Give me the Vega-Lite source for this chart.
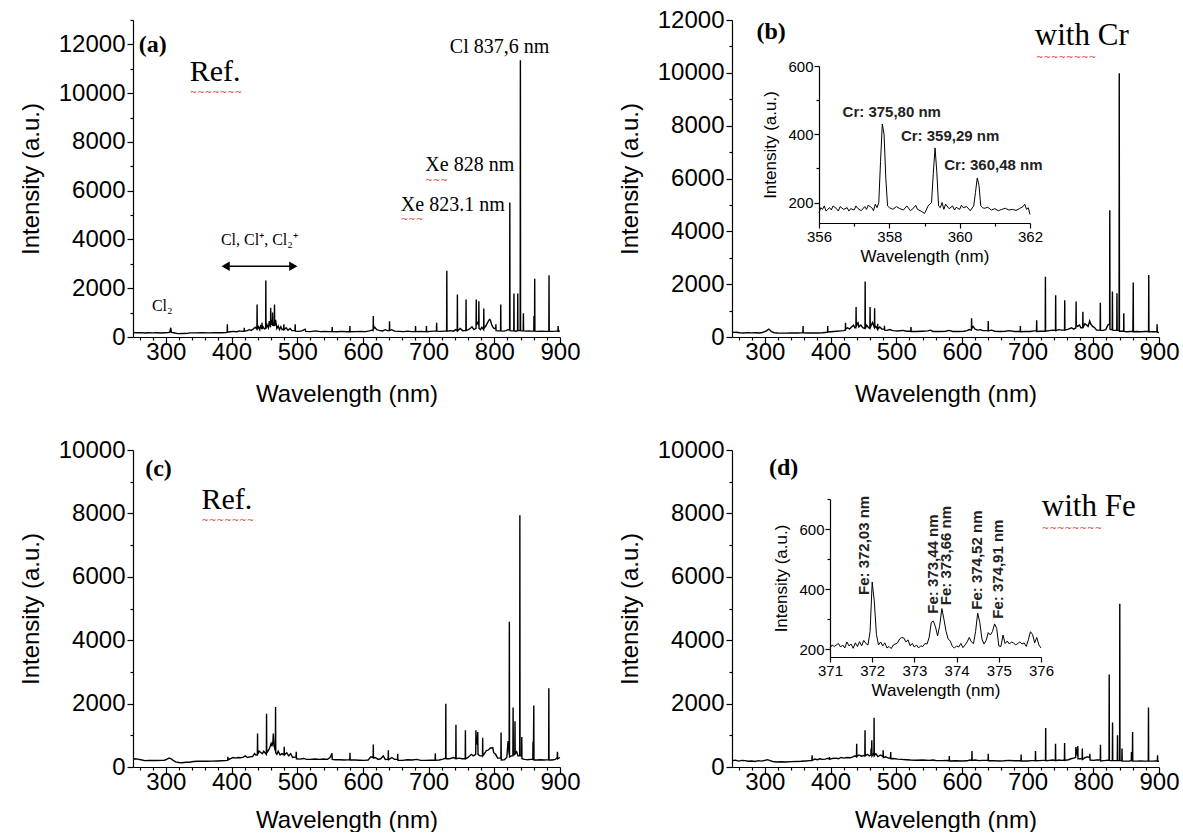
{
"$schema":"https://vega.github.io/schema/vega-lite/v6.json",
"padding":{"left":19,"top":8,"right":0,"bottom":0},
"config":{"view":{"stroke":null},"numberFormat":"d",
 "axis":{"grid":false,"labelFont":"Liberation Sans","titleFont":"Liberation Sans","labelColor":"black","titleColor":"black","titleFontWeight":"normal","domainColor":"black","tickColor":"black","domainWidth":1.2,"tickWidth":1.2,"labelFontSize":24,"titleFontSize":24,"labelFlush":false,"labelOverlap":false,"labelPadding":2}},
"datasets":{
"a":[{"w":250,"i":180},{"w":256,"i":172},{"w":262,"i":178},{"w":268,"i":165},{"w":274,"i":172},{"w":280,"i":168},{"w":286,"i":174},{"w":292,"i":165},{"w":298,"i":172},{"w":303,"i":178},{"w":306,"i":200},{"w":307.5,"i":380},{"w":308.5,"i":190},{"w":312,"i":175},{"w":318,"i":140},{"w":326,"i":145},{"w":333,"i":150},{"w":336,"i":170},{"w":345,"i":170},{"w":355,"i":172},{"w":365,"i":170},{"w":375,"i":172},{"w":385,"i":175},{"w":391,"i":180},{"w":393.3,"i":190},{"w":393.6,"i":520},{"w":394,"i":200},{"w":398,"i":215},{"w":403,"i":230},{"w":408,"i":215},{"w":412,"i":250},{"w":416,"i":230},{"w":419.1,"i":230},{"w":419.4,"i":380},{"w":419.7,"i":240},{"w":424,"i":260},{"w":427,"i":300},{"w":430,"i":270},{"w":433,"i":330},{"w":436,"i":400},{"w":438.6,"i":320},{"w":438.9,"i":1335},{"w":439.2,"i":320},{"w":441,"i":420},{"w":443,"i":300},{"w":444.5,"i":500},{"w":446.1,"i":320},{"w":446.4,"i":585},{"w":446.7,"i":330},{"w":448,"i":420},{"w":450,"i":330},{"w":451.9,"i":350},{"w":452.2,"i":2315},{"w":452.5,"i":350},{"w":454,"i":500},{"w":456,"i":380},{"w":457.5,"i":650},{"w":459.3,"i":400},{"w":459.6,"i":1200},{"w":459.9,"i":500},{"w":461,"i":700},{"w":462.2,"i":500},{"w":462.5,"i":1000},{"w":462.8,"i":450},{"w":464,"i":600},{"w":465.1,"i":450},{"w":465.4,"i":1335},{"w":465.7,"i":450},{"w":467,"i":700},{"w":469,"i":350},{"w":471,"i":450},{"w":473,"i":300},{"w":475,"i":420},{"w":477,"i":300},{"w":479.4,"i":320},{"w":479.7,"i":520},{"w":480,"i":300},{"w":483,"i":380},{"w":486,"i":280},{"w":489,"i":350},{"w":492,"i":260},{"w":496.6,"i":260},{"w":496.9,"i":520},{"w":497.2,"i":240},{"w":502,"i":230},{"w":507,"i":250},{"w":512,"i":320},{"w":513,"i":230},{"w":520,"i":220},{"w":528,"i":250},{"w":535,"i":220},{"w":542,"i":230},{"w":548,"i":220},{"w":552.9,"i":230},{"w":553.2,"i":410},{"w":553.5,"i":220},{"w":560,"i":215},{"w":568,"i":230},{"w":575,"i":215},{"w":579.9,"i":220},{"w":580.2,"i":450},{"w":580.5,"i":215},{"w":588,"i":220},{"w":596,"i":230},{"w":604,"i":220},{"w":610,"i":250},{"w":613,"i":280},{"w":615.5,"i":260},{"w":615.8,"i":860},{"w":616.1,"i":330},{"w":618,"i":400},{"w":621,"i":300},{"w":625,"i":270},{"w":630,"i":250},{"w":634,"i":300},{"w":637,"i":260},{"w":640.2,"i":260},{"w":640.5,"i":650},{"w":640.8,"i":270},{"w":644,"i":300},{"w":648,"i":240},{"w":655,"i":230},{"w":662,"i":220},{"w":668,"i":240},{"w":674,"i":220},{"w":679.8,"i":220},{"w":680.1,"i":450},{"w":680.4,"i":220},{"w":688,"i":230},{"w":693,"i":220},{"w":696.4,"i":220},{"w":696.7,"i":450},{"w":697,"i":220},{"w":703,"i":230},{"w":708,"i":240},{"w":711.9,"i":250},{"w":712.2,"i":585},{"w":712.5,"i":240},{"w":718,"i":230},{"w":724,"i":240},{"w":727.4,"i":240},{"w":727.7,"i":2720},{"w":728,"i":240},{"w":733,"i":260},{"w":738,"i":240},{"w":741,"i":300},{"w":743.5,"i":250},{"w":743.8,"i":1745},{"w":744.1,"i":250},{"w":748,"i":350},{"w":752,"i":260},{"w":756.7,"i":270},{"w":757,"i":1540},{"w":757.3,"i":270},{"w":762,"i":320},{"w":766,"i":420},{"w":769,"i":300},{"w":772.2,"i":350},{"w":772.5,"i":1540},{"w":772.8,"i":500},{"w":774,"i":600},{"w":776.2,"i":500},{"w":776.5,"i":1470},{"w":776.8,"i":350},{"w":779,"i":300},{"w":781,"i":400},{"w":783.7,"i":300},{"w":784,"i":1170},{"w":784.3,"i":350},{"w":787,"i":450},{"w":789,"i":550},{"w":791,"i":650},{"w":792.6,"i":720},{"w":794,"i":700},{"w":796,"i":500},{"w":798,"i":400},{"w":800,"i":350},{"w":802.1,"i":350},{"w":802.4,"i":520},{"w":802.7,"i":260},{"w":806,"i":250},{"w":809.5,"i":260},{"w":809.8,"i":1335},{"w":810.1,"i":250},{"w":814,"i":240},{"w":818,"i":260},{"w":821,"i":300},{"w":823.3,"i":300},{"w":823.6,"i":5515},{"w":823.9,"i":260},{"w":826,"i":250},{"w":829.6,"i":260},{"w":829.9,"i":1785},{"w":830.2,"i":260},{"w":833,"i":240},{"w":835.4,"i":260},{"w":835.7,"i":1785},{"w":836,"i":260},{"w":839.4,"i":260},{"w":839.7,"i":11345},{"w":840,"i":260},{"w":842,"i":250},{"w":844,"i":260},{"w":844.3,"i":970},{"w":844.6,"i":250},{"w":848,"i":240},{"w":852,"i":250},{"w":856,"i":240},{"w":860.1,"i":240},{"w":860.4,"i":860},{"w":860.7,"i":250},{"w":861.2,"i":250},{"w":861.5,"i":2385},{"w":861.8,"i":240},{"w":866,"i":230},{"w":872,"i":240},{"w":878,"i":230},{"w":883,"i":240},{"w":883.3,"i":2530},{"w":883.6,"i":240},{"w":888,"i":230},{"w":893,"i":240},{"w":896.8,"i":250},{"w":897.1,"i":450},{"w":897.5,"i":230},{"w":900,"i":250}],
"b":[{"w":250,"i":175},{"w":256,"i":180},{"w":262,"i":160},{"w":268,"i":150},{"w":274,"i":165},{"w":280,"i":155},{"w":286,"i":160},{"w":292,"i":150},{"w":296,"i":170},{"w":300,"i":200},{"w":303,"i":240},{"w":306,"i":300},{"w":308,"i":260},{"w":310,"i":200},{"w":314,"i":160},{"w":320,"i":150},{"w":330,"i":145},{"w":340,"i":150},{"w":350,"i":150},{"w":355,"i":155},{"w":357.9,"i":160},{"w":358.2,"i":415},{"w":358.5,"i":160},{"w":365,"i":150},{"w":372,"i":155},{"w":380,"i":150},{"w":388,"i":160},{"w":392,"i":170},{"w":395.4,"i":180},{"w":395.7,"i":415},{"w":396,"i":190},{"w":400,"i":200},{"w":405,"i":210},{"w":410,"i":220},{"w":415,"i":230},{"w":420,"i":240},{"w":422.5,"i":260},{"w":422.8,"i":540},{"w":423.1,"i":300},{"w":426,"i":350},{"w":429,"i":300},{"w":432,"i":380},{"w":435,"i":450},{"w":437,"i":350},{"w":438.6,"i":350},{"w":438.9,"i":1135},{"w":439.2,"i":400},{"w":440.5,"i":500},{"w":441.8,"i":540},{"w":443,"i":380},{"w":446,"i":450},{"w":449,"i":350},{"w":452.4,"i":320},{"w":452.7,"i":2100},{"w":453,"i":320},{"w":455,"i":450},{"w":458,"i":350},{"w":459.9,"i":320},{"w":460.2,"i":1135},{"w":460.5,"i":350},{"w":462,"i":450},{"w":464,"i":550},{"w":466.8,"i":350},{"w":467.1,"i":1085},{"w":467.4,"i":350},{"w":469,"i":400},{"w":471.5,"i":300},{"w":471.8,"i":500},{"w":472.1,"i":300},{"w":475,"i":380},{"w":478,"i":300},{"w":481.8,"i":300},{"w":482.1,"i":420},{"w":482.4,"i":260},{"w":486,"i":250},{"w":490,"i":280},{"w":495,"i":240},{"w":502,"i":230},{"w":510,"i":250},{"w":516,"i":220},{"w":522.2,"i":220},{"w":522.5,"i":380},{"w":522.8,"i":210},{"w":530,"i":210},{"w":540,"i":220},{"w":548,"i":230},{"w":552,"i":260},{"w":556,"i":210},{"w":565,"i":210},{"w":575,"i":220},{"w":580,"i":250},{"w":586,"i":210},{"w":595,"i":210},{"w":603,"i":220},{"w":608,"i":240},{"w":611,"i":280},{"w":614.4,"i":260},{"w":614.7,"i":710},{"w":615,"i":320},{"w":617,"i":400},{"w":620,"i":300},{"w":624,"i":260},{"w":628,"i":280},{"w":632,"i":240},{"w":639.8,"i":240},{"w":640.1,"i":605},{"w":640.4,"i":230},{"w":645,"i":260},{"w":650,"i":220},{"w":658,"i":210},{"w":666,"i":220},{"w":672,"i":240},{"w":680,"i":210},{"w":688.7,"i":210},{"w":689,"i":415},{"w":689.3,"i":200},{"w":696,"i":210},{"w":704,"i":210},{"w":710,"i":230},{"w":713.5,"i":230},{"w":713.8,"i":630},{"w":714.1,"i":210},{"w":720,"i":220},{"w":726.8,"i":220},{"w":727.1,"i":2285},{"w":727.4,"i":220},{"w":733,"i":240},{"w":738,"i":260},{"w":742.4,"i":250},{"w":742.7,"i":1580},{"w":743,"i":240},{"w":747,"i":280},{"w":752,"i":260},{"w":756.2,"i":260},{"w":756.5,"i":1390},{"w":756.8,"i":260},{"w":762,"i":300},{"w":767,"i":350},{"w":770,"i":300},{"w":773.5,"i":350},{"w":773.8,"i":1340},{"w":774.1,"i":450},{"w":776,"i":400},{"w":779,"i":450},{"w":781,"i":350},{"w":783.8,"i":350},{"w":784.1,"i":960},{"w":784.4,"i":350},{"w":787,"i":500},{"w":790,"i":450},{"w":792,"i":400},{"w":794.5,"i":605},{"w":796,"i":500},{"w":799,"i":400},{"w":802,"i":350},{"w":805,"i":260},{"w":810.4,"i":260},{"w":810.7,"i":1300},{"w":811,"i":250},{"w":815,"i":250},{"w":819,"i":280},{"w":822,"i":450},{"w":824.8,"i":500},{"w":825.1,"i":4800},{"w":825.4,"i":300},{"w":827,"i":280},{"w":828.8,"i":280},{"w":829.1,"i":1720},{"w":829.4,"i":260},{"w":833,"i":250},{"w":835.7,"i":260},{"w":836,"i":1655},{"w":836.3,"i":250},{"w":839.2,"i":250},{"w":839.5,"i":9980},{"w":839.8,"i":220},{"w":843,"i":220},{"w":846.1,"i":220},{"w":846.4,"i":900},{"w":846.7,"i":210},{"w":851,"i":200},{"w":856,"i":210},{"w":860.2,"i":210},{"w":860.5,"i":900},{"w":860.8,"i":2060},{"w":861.1,"i":200},{"w":866,"i":210},{"w":872,"i":200},{"w":878,"i":210},{"w":884.1,"i":210},{"w":884.4,"i":2350},{"w":884.7,"i":200},{"w":890,"i":200},{"w":894,"i":200},{"w":896.8,"i":200},{"w":897.1,"i":480},{"w":897.5,"i":180},{"w":900,"i":170}],
"c":[{"w":250,"i":240},{"w":253,"i":260},{"w":257,"i":250},{"w":262,"i":230},{"w":268,"i":200},{"w":274,"i":205},{"w":280,"i":210},{"w":286,"i":205},{"w":292,"i":210},{"w":298,"i":215},{"w":302,"i":250},{"w":305,"i":280},{"w":308,"i":260},{"w":311,"i":210},{"w":315,"i":160},{"w":320,"i":140},{"w":325,"i":135},{"w":330,"i":150},{"w":336,"i":150},{"w":342,"i":175},{"w":348,"i":180},{"w":355,"i":180},{"w":362,"i":180},{"w":370,"i":185},{"w":378,"i":190},{"w":385,"i":195},{"w":390,"i":200},{"w":394.1,"i":210},{"w":394.4,"i":325},{"w":394.7,"i":230},{"w":398,"i":260},{"w":402,"i":300},{"w":406,"i":280},{"w":410,"i":300},{"w":414,"i":290},{"w":418,"i":310},{"w":421,"i":350},{"w":424,"i":300},{"w":428,"i":320},{"w":432,"i":330},{"w":435,"i":420},{"w":437,"i":380},{"w":439.3,"i":380},{"w":439.6,"i":1055},{"w":439.9,"i":400},{"w":442,"i":500},{"w":445,"i":450},{"w":447,"i":420},{"w":449,"i":500},{"w":451,"i":450},{"w":453,"i":400},{"w":453.3,"i":1680},{"w":453.6,"i":450},{"w":456,"i":520},{"w":458,"i":600},{"w":460.2,"i":740},{"w":461.5,"i":650},{"w":463,"i":800},{"w":463.6,"i":1055},{"w":464.5,"i":700},{"w":466.7,"i":500},{"w":467,"i":1890},{"w":467.3,"i":450},{"w":469,"i":400},{"w":471,"i":500},{"w":474,"i":380},{"w":477,"i":420},{"w":479.9,"i":380},{"w":480.2,"i":635},{"w":480.5,"i":380},{"w":484,"i":450},{"w":487,"i":350},{"w":490,"i":420},{"w":493,"i":300},{"w":498.2,"i":320},{"w":498.5,"i":480},{"w":498.8,"i":260},{"w":504,"i":250},{"w":510,"i":270},{"w":514,"i":240},{"w":520,"i":240},{"w":527,"i":250},{"w":534,"i":240},{"w":540,"i":250},{"w":546,"i":240},{"w":550,"i":300},{"w":552.9,"i":430},{"w":553.3,"i":240},{"w":558,"i":230},{"w":565,"i":230},{"w":572,"i":220},{"w":580,"i":230},{"w":580.3,"i":450},{"w":580.6,"i":220},{"w":588,"i":220},{"w":595,"i":215},{"w":602,"i":210},{"w":608,"i":220},{"w":612,"i":320},{"w":615.5,"i":300},{"w":615.8,"i":710},{"w":616.1,"i":280},{"w":619,"i":300},{"w":623,"i":240},{"w":627,"i":260},{"w":631,"i":350},{"w":634,"i":240},{"w":638.4,"i":250},{"w":638.7,"i":530},{"w":639,"i":230},{"w":644,"i":300},{"w":648,"i":240},{"w":652.7,"i":240},{"w":653,"i":420},{"w":653.3,"i":210},{"w":660,"i":210},{"w":668,"i":230},{"w":675,"i":220},{"w":682,"i":240},{"w":688,"i":210},{"w":695,"i":210},{"w":702,"i":215},{"w":709.9,"i":220},{"w":710.2,"i":430},{"w":710.5,"i":210},{"w":716,"i":220},{"w":722,"i":250},{"w":725.9,"i":280},{"w":726.2,"i":1995},{"w":726.5,"i":260},{"w":732,"i":260},{"w":738,"i":300},{"w":741.3,"i":270},{"w":741.6,"i":1335},{"w":741.9,"i":260},{"w":746,"i":280},{"w":751,"i":260},{"w":755.7,"i":260},{"w":756,"i":1160},{"w":756.3,"i":260},{"w":760,"i":300},{"w":765,"i":400},{"w":768,"i":350},{"w":771.7,"i":400},{"w":772,"i":1160},{"w":772.5,"i":900},{"w":773,"i":800},{"w":774.5,"i":700},{"w":774.8,"i":1105},{"w":775.2,"i":400},{"w":778,"i":350},{"w":782,"i":350},{"w":782.3,"i":920},{"w":782.6,"i":350},{"w":786,"i":450},{"w":788,"i":520},{"w":790.3,"i":530},{"w":792,"i":560},{"w":794,"i":600},{"w":797.7,"i":605},{"w":799,"i":450},{"w":802,"i":400},{"w":805,"i":280},{"w":810,"i":280},{"w":810.3,"i":1085},{"w":810.6,"i":220},{"w":815,"i":230},{"w":819,"i":300},{"w":821,"i":820},{"w":822.6,"i":400},{"w":822.9,"i":4585},{"w":823.2,"i":320},{"w":826,"i":350},{"w":828.3,"i":350},{"w":828.6,"i":1880},{"w":829,"i":380},{"w":831.2,"i":400},{"w":831.5,"i":1440},{"w":831.8,"i":420},{"w":834,"i":480},{"w":836,"i":350},{"w":838.6,"i":350},{"w":838.9,"i":7945},{"w":839.2,"i":350},{"w":841.5,"i":350},{"w":841.8,"i":950},{"w":842.1,"i":260},{"w":846,"i":240},{"w":851,"i":230},{"w":855,"i":240},{"w":858.6,"i":250},{"w":858.9,"i":795},{"w":859.5,"i":400},{"w":860.1,"i":1940},{"w":860.4,"i":220},{"w":865,"i":220},{"w":870,"i":230},{"w":876,"i":220},{"w":882.7,"i":230},{"w":883,"i":2485},{"w":883.3,"i":220},{"w":888,"i":220},{"w":893,"i":240},{"w":895.8,"i":300},{"w":896.1,"i":480},{"w":896.5,"i":260},{"w":900,"i":300}],
"d":[{"w":250,"i":200},{"w":255,"i":215},{"w":260,"i":185},{"w":265,"i":210},{"w":270,"i":200},{"w":275,"i":180},{"w":280,"i":190},{"w":285,"i":175},{"w":290,"i":200},{"w":295,"i":185},{"w":300,"i":210},{"w":304,"i":230},{"w":308,"i":200},{"w":312,"i":175},{"w":318,"i":160},{"w":325,"i":165},{"w":332,"i":160},{"w":340,"i":170},{"w":348,"i":175},{"w":355,"i":180},{"w":362,"i":190},{"w":368,"i":200},{"w":371.6,"i":200},{"w":371.9,"i":370},{"w":372.2,"i":210},{"w":376,"i":250},{"w":380,"i":230},{"w":384,"i":260},{"w":388,"i":240},{"w":392,"i":250},{"w":395,"i":270},{"w":398.1,"i":260},{"w":398.4,"i":315},{"w":398.7,"i":240},{"w":403,"i":270},{"w":408,"i":280},{"w":412,"i":260},{"w":416,"i":300},{"w":420,"i":280},{"w":425,"i":300},{"w":430,"i":290},{"w":434,"i":320},{"w":437,"i":350},{"w":439.5,"i":320},{"w":439.8,"i":735},{"w":440.1,"i":330},{"w":443,"i":380},{"w":447,"i":340},{"w":450,"i":360},{"w":452.2,"i":350},{"w":452.5,"i":1160},{"w":452.8,"i":350},{"w":456,"i":400},{"w":459,"i":350},{"w":461.4,"i":380},{"w":461.7,"i":580},{"w":462.5,"i":500},{"w":462.8,"i":840},{"w":463.1,"i":350},{"w":465,"i":400},{"w":466,"i":380},{"w":466.3,"i":1550},{"w":466.6,"i":350},{"w":469,"i":420},{"w":472,"i":330},{"w":476,"i":380},{"w":479.8,"i":330},{"w":480.1,"i":525},{"w":480.4,"i":300},{"w":484,"i":320},{"w":488,"i":280},{"w":491.3,"i":290},{"w":491.6,"i":475},{"w":491.9,"i":260},{"w":496,"i":270},{"w":502,"i":250},{"w":508,"i":240},{"w":515,"i":230},{"w":522,"i":220},{"w":530,"i":215},{"w":540,"i":220},{"w":550,"i":210},{"w":556,"i":220},{"w":560,"i":205},{"w":570,"i":200},{"w":576,"i":205},{"w":580.5,"i":200},{"w":580.8,"i":350},{"w":581.1,"i":190},{"w":590,"i":195},{"w":600,"i":190},{"w":608,"i":195},{"w":612,"i":220},{"w":615,"i":210},{"w":615.3,"i":505},{"w":615.6,"i":210},{"w":620,"i":220},{"w":626,"i":200},{"w":632,"i":210},{"w":639.8,"i":210},{"w":640.1,"i":420},{"w":640.4,"i":195},{"w":648,"i":200},{"w":656,"i":190},{"w":664,"i":195},{"w":672,"i":210},{"w":680,"i":195},{"w":689.8,"i":195},{"w":690.1,"i":390},{"w":690.4,"i":190},{"w":700,"i":190},{"w":706,"i":200},{"w":711.7,"i":210},{"w":712,"i":505},{"w":712.3,"i":195},{"w":718,"i":200},{"w":724,"i":210},{"w":727.2,"i":210},{"w":727.5,"i":1230},{"w":727.8,"i":200},{"w":733,"i":210},{"w":738,"i":220},{"w":742.2,"i":210},{"w":742.5,"i":735},{"w":742.8,"i":200},{"w":748,"i":220},{"w":752,"i":210},{"w":756,"i":220},{"w":756.3,"i":760},{"w":756.6,"i":210},{"w":762,"i":230},{"w":766,"i":260},{"w":770,"i":280},{"w":773.2,"i":300},{"w":773.5,"i":630},{"w":774.5,"i":500},{"w":776.1,"i":350},{"w":776.4,"i":665},{"w":776.7,"i":260},{"w":780,"i":260},{"w":783,"i":260},{"w":783.3,"i":580},{"w":783.6,"i":240},{"w":788,"i":300},{"w":791,"i":320},{"w":794.5,"i":300},{"w":794.8,"i":420},{"w":795.1,"i":220},{"w":800,"i":210},{"w":805,"i":220},{"w":810.6,"i":220},{"w":810.9,"i":705},{"w":811.2,"i":190},{"w":816,"i":200},{"w":820,"i":210},{"w":823.9,"i":220},{"w":824.2,"i":2915},{"w":824.5,"i":210},{"w":827,"i":200},{"w":829,"i":200},{"w":829.3,"i":1400},{"w":829.6,"i":200},{"w":834,"i":200},{"w":836.5,"i":210},{"w":836.8,"i":1000},{"w":837.1,"i":200},{"w":840,"i":200},{"w":840.3,"i":5150},{"w":840.6,"i":200},{"w":843.4,"i":200},{"w":843.7,"i":580},{"w":844,"i":190},{"w":850,"i":185},{"w":855,"i":190},{"w":857.8,"i":200},{"w":858.1,"i":475},{"w":859.5,"i":200},{"w":859.8,"i":1105},{"w":860.1,"i":190},{"w":866,"i":185},{"w":872,"i":190},{"w":878,"i":185},{"w":883.7,"i":190},{"w":884,"i":1875},{"w":884.3,"i":190},{"w":890,"i":185},{"w":895,"i":190},{"w":897.5,"i":190},{"w":897.8,"i":370},{"w":898.1,"i":180},{"w":900,"i":180}],
"ib":[{"w":356.0,"i":170},{"w":356.05,"i":185},{"w":356.1,"i":180},{"w":356.15,"i":190},{"w":356.2,"i":175},{"w":356.3,"i":185},{"w":356.35,"i":178},{"w":356.4,"i":190},{"w":356.5,"i":182},{"w":356.55,"i":175},{"w":356.6,"i":188},{"w":356.7,"i":180},{"w":356.8,"i":185},{"w":356.85,"i":175},{"w":356.9,"i":182},{"w":357.0,"i":178},{"w":357.05,"i":190},{"w":357.1,"i":183},{"w":357.2,"i":176},{"w":357.3,"i":188},{"w":357.35,"i":180},{"w":357.4,"i":192},{"w":357.5,"i":185},{"w":357.55,"i":176},{"w":357.6,"i":195},{"w":357.65,"i":185},{"w":357.7,"i":200},{"w":357.75,"i":320},{"w":357.8,"i":430},{"w":357.85,"i":400},{"w":357.9,"i":270},{"w":357.95,"i":190},{"w":358.0,"i":185},{"w":358.1,"i":180},{"w":358.2,"i":188},{"w":358.3,"i":182},{"w":358.4,"i":178},{"w":358.5,"i":190},{"w":358.6,"i":176},{"w":358.7,"i":185},{"w":358.75,"i":192},{"w":358.8,"i":180},{"w":358.9,"i":175},{"w":359.0,"i":168},{"w":359.05,"i":178},{"w":359.1,"i":190},{"w":359.2,"i":200},{"w":359.25,"i":285},{"w":359.3,"i":360},{"w":359.35,"i":290},{"w":359.4,"i":190},{"w":359.45,"i":185},{"w":359.5,"i":200},{"w":359.55,"i":180},{"w":359.6,"i":195},{"w":359.7,"i":182},{"w":359.8,"i":190},{"w":359.85,"i":178},{"w":359.9,"i":186},{"w":360.0,"i":180},{"w":360.05,"i":192},{"w":360.1,"i":185},{"w":360.2,"i":188},{"w":360.3,"i":176},{"w":360.4,"i":190},{"w":360.45,"i":230},{"w":360.5,"i":272},{"w":360.55,"i":250},{"w":360.6,"i":190},{"w":360.65,"i":185},{"w":360.7,"i":183},{"w":360.8,"i":186},{"w":360.9,"i":178},{"w":361.0,"i":182},{"w":361.1,"i":176},{"w":361.2,"i":180},{"w":361.3,"i":183},{"w":361.4,"i":178},{"w":361.5,"i":180},{"w":361.6,"i":177},{"w":361.7,"i":182},{"w":361.8,"i":188},{"w":361.85,"i":195},{"w":361.9,"i":180},{"w":361.95,"i":185},{"w":362.0,"i":165}],
"id":[{"w":371.0,"i":205},{"w":371.05,"i":215},{"w":371.1,"i":210},{"w":371.2,"i":220},{"w":371.25,"i":208},{"w":371.3,"i":215},{"w":371.35,"i":205},{"w":371.4,"i":225},{"w":371.45,"i":212},{"w":371.5,"i":218},{"w":371.55,"i":204},{"w":371.6,"i":222},{"w":371.65,"i":210},{"w":371.7,"i":226},{"w":371.75,"i":212},{"w":371.8,"i":230},{"w":371.85,"i":220},{"w":371.9,"i":215},{"w":371.95,"i":260},{"w":372.0,"i":424},{"w":372.05,"i":360},{"w":372.1,"i":250},{"w":372.15,"i":215},{"w":372.2,"i":225},{"w":372.25,"i":212},{"w":372.3,"i":222},{"w":372.35,"i":205},{"w":372.4,"i":210},{"w":372.45,"i":203},{"w":372.5,"i":215},{"w":372.6,"i":222},{"w":372.65,"i":235},{"w":372.7,"i":240},{"w":372.75,"i":238},{"w":372.8,"i":225},{"w":372.85,"i":232},{"w":372.9,"i":212},{"w":372.95,"i":220},{"w":373.0,"i":208},{"w":373.05,"i":215},{"w":373.1,"i":205},{"w":373.15,"i":212},{"w":373.2,"i":210},{"w":373.25,"i":220},{"w":373.3,"i":218},{"w":373.35,"i":240},{"w":373.4,"i":290},{"w":373.45,"i":294},{"w":373.5,"i":275},{"w":373.55,"i":245},{"w":373.6,"i":280},{"w":373.65,"i":336},{"w":373.7,"i":300},{"w":373.75,"i":260},{"w":373.8,"i":235},{"w":373.85,"i":228},{"w":373.9,"i":210},{"w":373.95,"i":205},{"w":374.0,"i":212},{"w":374.05,"i":208},{"w":374.1,"i":220},{"w":374.15,"i":206},{"w":374.2,"i":215},{"w":374.25,"i":225},{"w":374.3,"i":240},{"w":374.35,"i":225},{"w":374.4,"i":220},{"w":374.45,"i":260},{"w":374.5,"i":321},{"w":374.55,"i":290},{"w":374.6,"i":235},{"w":374.65,"i":218},{"w":374.7,"i":230},{"w":374.75,"i":256},{"w":374.8,"i":248},{"w":374.85,"i":260},{"w":374.9,"i":285},{"w":374.95,"i":270},{"w":375.0,"i":212},{"w":375.05,"i":210},{"w":375.1,"i":248},{"w":375.15,"i":220},{"w":375.2,"i":228},{"w":375.25,"i":218},{"w":375.3,"i":225},{"w":375.35,"i":222},{"w":375.4,"i":215},{"w":375.5,"i":225},{"w":375.55,"i":218},{"w":375.6,"i":222},{"w":375.65,"i":210},{"w":375.7,"i":232},{"w":375.75,"i":259},{"w":375.8,"i":250},{"w":375.85,"i":222},{"w":375.9,"i":240},{"w":375.95,"i":215},{"w":376.0,"i":205}]
},
"vconcat":[
{"hconcat":[
 {"width":427,"height":317,
  "encoding":{
   "x":{"field":"w","type":"quantitative","scale":{"domain":[250,900],"nice":false,"zero":false},"axis":{"title":"Wavelength (nm)","values":[260,280,300,320,340,360,380,400,420,440,460,480,500,520,540,560,580,600,620,640,660,680,700,720,740,760,780,800,820,840,860,880,900],"labelExpr":"datum.value % 100 === 0 ? datum.label : ''","tickSize":{"condition":{"test":"datum.value % 100 === 0","value":6},"value":3},"labelPadding":-3,"titlePadding":18}},
   "y":{"field":"i","type":"quantitative","scale":{"domain":[0,13000],"nice":false},"axis":{"title":"Intensity (a.u.)","values":[0,1000,2000,3000,4000,5000,6000,7000,8000,9000,10000,11000,12000,13000],"labelExpr":"datum.value % 2000 === 0 ? datum.label : ''","tickSize":{"condition":{"test":"datum.value % 2000 === 0","value":6},"value":3},"titlePadding":15}}},
  "layer":[
   {"data":{"name":"a"},"mark":{"type":"line","color":"black","strokeWidth":1.4}},
   {"data":{"values":[{"w":258.7,"i":11960,"t":"(a)"}]},"mark":{"type":"text","font":"Liberation Serif","fontSize":24,"fontWeight":"bold","align":"left","baseline":"middle","color":"black"},"encoding":{"text":{"field":"t"}}},
   {"data":{"values":[{"w":336.2,"i":10870,"t":"Ref."}]},"mark":{"type":"text","font":"Liberation Serif","fontSize":30,"align":"left","baseline":"middle","color":"black"},"encoding":{"text":{"field":"t"}}},
   {"data":{"values":[{"w":732.3,"i":11890,"t":"Cl 837,6 nm"},{"w":695,"i":7055,"t":"Xe 828 nm"},{"w":657.7,"i":5420,"t":"Xe 823.1 nm"}]},"mark":{"type":"text","font":"Liberation Serif","fontSize":20,"align":"left","baseline":"middle","color":"black"},"encoding":{"text":{"field":"t"}}},
   {"data":{"values":[{"w":383.8,"i":3990,"t":"Cl, Cl⁺, Cl₂⁺"},{"w":278.8,"i":1265,"t":"Cl₂"}]},"mark":{"type":"text","font":"Liberation Serif","fontSize":16,"align":"left","baseline":"middle","color":"black"},"encoding":{"text":{"field":"t"}}},
   {"data":{"values":[{"w":336.2,"i":10060,"t":"~~~~~~~"},{"w":695,"i":6450,"t":"~~~"},{"w":657.7,"i":4820,"t":"~~~"}]},"mark":{"type":"text","font":"DejaVu Sans","fontSize":9,"align":"left","baseline":"middle","color":"#e03030"},"encoding":{"text":{"field":"t"}}},
   {"data":{"values":[{"w":392,"w2":493,"i":2900}]},"mark":{"type":"rule","color":"black","strokeWidth":1.5},"encoding":{"x2":{"field":"w2"}}},
   {"data":{"values":[{"w":391,"i":2900}]},"mark":{"type":"point","shape":"triangle-left","filled":true,"size":90,"color":"black","opacity":1}},
   {"data":{"values":[{"w":494,"i":2900}]},"mark":{"type":"point","shape":"triangle-right","filled":true,"size":90,"color":"black","opacity":1}}
  ]},
 {"width":427,"height":317,
  "resolve":{"scale":{"x":"independent","y":"independent"},"axis":{"x":"independent","y":"independent"}},
  "layer":[
   {"encoding":{
     "x":{"field":"w","type":"quantitative","scale":{"domain":[250,900],"nice":false,"zero":false},"axis":{"orient":"bottom","title":"Wavelength (nm)","values":[260,280,300,320,340,360,380,400,420,440,460,480,500,520,540,560,580,600,620,640,660,680,700,720,740,760,780,800,820,840,860,880,900],"labelExpr":"datum.value % 100 === 0 ? datum.label : ''","tickSize":{"condition":{"test":"datum.value % 100 === 0","value":6},"value":3},"labelPadding":-3,"titlePadding":18}},
     "y":{"field":"i","type":"quantitative","scale":{"domain":[0,12000],"nice":false},"axis":{"orient":"left","title":"Intensity (a.u.)","values":[0,1000,2000,3000,4000,5000,6000,7000,8000,9000,10000,11000,12000],"labelExpr":"datum.value % 2000 === 0 ? datum.label : ''","tickSize":{"condition":{"test":"datum.value % 2000 === 0","value":6},"value":3},"titlePadding":15}}},
    "layer":[
     {"data":{"name":"b"},"mark":{"type":"line","color":"black","strokeWidth":1.4}},
     {"data":{"values":[{"w":287.3,"i":11530,"t":"(b)"}]},"mark":{"type":"text","font":"Liberation Serif","fontSize":24,"fontWeight":"bold","align":"left","baseline":"middle","color":"black"},"encoding":{"text":{"field":"t"}}},
     {"data":{"values":[{"w":711,"i":11400,"t":"with Cr"}]},"mark":{"type":"text","font":"Liberation Serif","fontSize":31,"align":"left","baseline":"middle","color":"black"},"encoding":{"text":{"field":"t"}}},
     {"data":{"values":[{"w":712.7,"i":10600,"t":"~~~~~~~~"}]},"mark":{"type":"text","font":"DejaVu Sans","fontSize":9,"align":"left","baseline":"middle","color":"#e03030"},"encoding":{"text":{"field":"t"}}}
    ]},
   {"encoding":{
     "x":{"field":"w","type":"quantitative","scale":{"domain":[356,362],"range":[87,298],"nice":false,"zero":false},"axis":{"orient":"bottom","offset":-114,"title":"Wavelength (nm)","values":[356,357,358,359,360,361,362],"labelExpr":"datum.value % 2 === 0 ? datum.label : ''","tickSize":{"condition":{"test":"datum.value % 2 === 0","value":5},"value":3},"labelFontSize":15,"titleFontSize":17,"titlePadding":4,"labelPadding":1}},
     "y":{"field":"i","type":"quantitative","scale":{"domain":[140,600],"range":[203,46],"nice":false,"zero":false},"axis":{"orient":"left","offset":-87,"title":"Intensity (a.u.)","values":[200,300,400,500,600],"labelExpr":"datum.value % 200 === 0 ? datum.label : ''","tickSize":{"condition":{"test":"datum.value % 200 === 0","value":5},"value":3},"labelFontSize":15,"titleFontSize":17,"titlePadding":8,"labelPadding":1}}},
    "layer":[
     {"data":{"name":"ib"},"mark":{"type":"line","color":"black","strokeWidth":1}},
     {"data":{"values":[{"w":356.67,"i":464,"t":"Cr: 375,80 nm"},{"w":358.33,"i":396,"t":"Cr: 359,29 nm"},{"w":359.56,"i":311,"t":"Cr: 360,48 nm"}]},"mark":{"type":"text","font":"Liberation Sans","fontSize":15,"fontWeight":"bold","align":"left","baseline":"middle","color":"#222"},"encoding":{"text":{"field":"t"}}}
    ]}
  ]}
],"spacing":37},
{"hconcat":[
 {"width":427,"height":317,
  "encoding":{
   "x":{"field":"w","type":"quantitative","scale":{"domain":[250,900],"nice":false,"zero":false},"axis":{"title":"Wavelength (nm)","values":[260,280,300,320,340,360,380,400,420,440,460,480,500,520,540,560,580,600,620,640,660,680,700,720,740,760,780,800,820,840,860,880,900],"labelExpr":"datum.value % 100 === 0 ? datum.label : ''","tickSize":{"condition":{"test":"datum.value % 100 === 0","value":6},"value":3},"labelPadding":-3,"titlePadding":14}},
   "y":{"field":"i","type":"quantitative","scale":{"domain":[0,10000],"nice":false},"axis":{"title":"Intensity (a.u.)","values":[0,1000,2000,3000,4000,5000,6000,7000,8000,9000,10000],"labelExpr":"datum.value % 2000 === 0 ? datum.label : ''","tickSize":{"condition":{"test":"datum.value % 2000 === 0","value":6},"value":3},"titlePadding":15}}},
  "layer":[
   {"data":{"name":"c"},"mark":{"type":"line","color":"black","strokeWidth":1.4}},
   {"data":{"values":[{"w":268.5,"i":9400,"t":"(c)"}]},"mark":{"type":"text","font":"Liberation Serif","fontSize":24,"fontWeight":"bold","align":"left","baseline":"middle","color":"black"},"encoding":{"text":{"field":"t"}}},
   {"data":{"values":[{"w":354.3,"i":8415,"t":"Ref."}]},"mark":{"type":"text","font":"Liberation Serif","fontSize":30,"align":"left","baseline":"middle","color":"black"},"encoding":{"text":{"field":"t"}}},
   {"data":{"values":[{"w":354.3,"i":7790,"t":"~~~~~~~"}]},"mark":{"type":"text","font":"DejaVu Sans","fontSize":9,"align":"left","baseline":"middle","color":"#e03030"},"encoding":{"text":{"field":"t"}}}
  ]},
 {"width":427,"height":317,
  "resolve":{"scale":{"x":"independent","y":"independent"},"axis":{"x":"independent","y":"independent"}},
  "layer":[
   {"encoding":{
     "x":{"field":"w","type":"quantitative","scale":{"domain":[250,900],"nice":false,"zero":false},"axis":{"orient":"bottom","title":"Wavelength (nm)","values":[260,280,300,320,340,360,380,400,420,440,460,480,500,520,540,560,580,600,620,640,660,680,700,720,740,760,780,800,820,840,860,880,900],"labelExpr":"datum.value % 100 === 0 ? datum.label : ''","tickSize":{"condition":{"test":"datum.value % 100 === 0","value":6},"value":3},"labelPadding":-3,"titlePadding":14}},
     "y":{"field":"i","type":"quantitative","scale":{"domain":[0,10000],"nice":false},"axis":{"orient":"left","title":"Intensity (a.u.)","values":[0,1000,2000,3000,4000,5000,6000,7000,8000,9000,10000],"labelExpr":"datum.value % 2000 === 0 ? datum.label : ''","tickSize":{"condition":{"test":"datum.value % 2000 === 0","value":6},"value":3},"titlePadding":15}}},
    "layer":[
     {"data":{"name":"d"},"mark":{"type":"line","color":"black","strokeWidth":1.4}},
     {"data":{"values":[{"w":306.3,"i":9425,"t":"(d)"}]},"mark":{"type":"text","font":"Liberation Serif","fontSize":24,"fontWeight":"bold","align":"left","baseline":"middle","color":"black"},"encoding":{"text":{"field":"t"}}},
     {"data":{"values":[{"w":721.7,"i":8215,"t":"with Fe"}]},"mark":{"type":"text","font":"Liberation Serif","fontSize":31,"align":"left","baseline":"middle","color":"black"},"encoding":{"text":{"field":"t"}}},
     {"data":{"values":[{"w":721.7,"i":7550,"t":"~~~~~~~~"}]},"mark":{"type":"text","font":"DejaVu Sans","fontSize":9,"align":"left","baseline":"middle","color":"#e03030"},"encoding":{"text":{"field":"t"}}}
    ]},
   {"encoding":{
     "x":{"field":"w","type":"quantitative","scale":{"domain":[371,376],"range":[98,309],"nice":false,"zero":false},"axis":{"orient":"bottom","offset":-110,"title":"Wavelength (nm)","values":[371,371.5,372,372.5,373,373.5,374,374.5,375,375.5,376],"labelExpr":"datum.value % 1 === 0 ? datum.label : ''","tickSize":{"condition":{"test":"datum.value % 1 === 0","value":5},"value":3},"labelFontSize":15,"titleFontSize":17,"titlePadding":4,"labelPadding":1}},
     "y":{"field":"i","type":"quantitative","scale":{"domain":[175,700],"range":[207,49],"nice":false,"zero":false},"axis":{"orient":"left","offset":-98,"title":"Intensity (a.u.)","values":[200,300,400,500,600,700],"labelExpr":"datum.value % 200 === 0 ? datum.label : ''","tickSize":{"condition":{"test":"datum.value % 200 === 0","value":5},"value":3},"labelFontSize":15,"titleFontSize":17,"titlePadding":8,"labelPadding":1}}},
    "layer":[
     {"data":{"name":"id"},"mark":{"type":"line","color":"black","strokeWidth":1}},
     {"data":{"values":[{"w":371.8,"i":381,"t":"Fe: 372,03 nm"},{"w":373.43,"i":319,"t":"Fe: 373,44 nm"},{"w":373.74,"i":347,"t":"Fe: 373,66 nm"},{"w":374.48,"i":332,"t":"Fe: 374,52 nm"},{"w":374.98,"i":302,"t":"Fe: 374,91 nm"}]},"mark":{"type":"text","font":"Liberation Sans","fontSize":15,"fontWeight":"bold","align":"left","baseline":"middle","angle":270,"color":"#222"},"encoding":{"text":{"field":"t"}}}
    ]}
  ]}
],"spacing":37}
],
"spacing":32
}
